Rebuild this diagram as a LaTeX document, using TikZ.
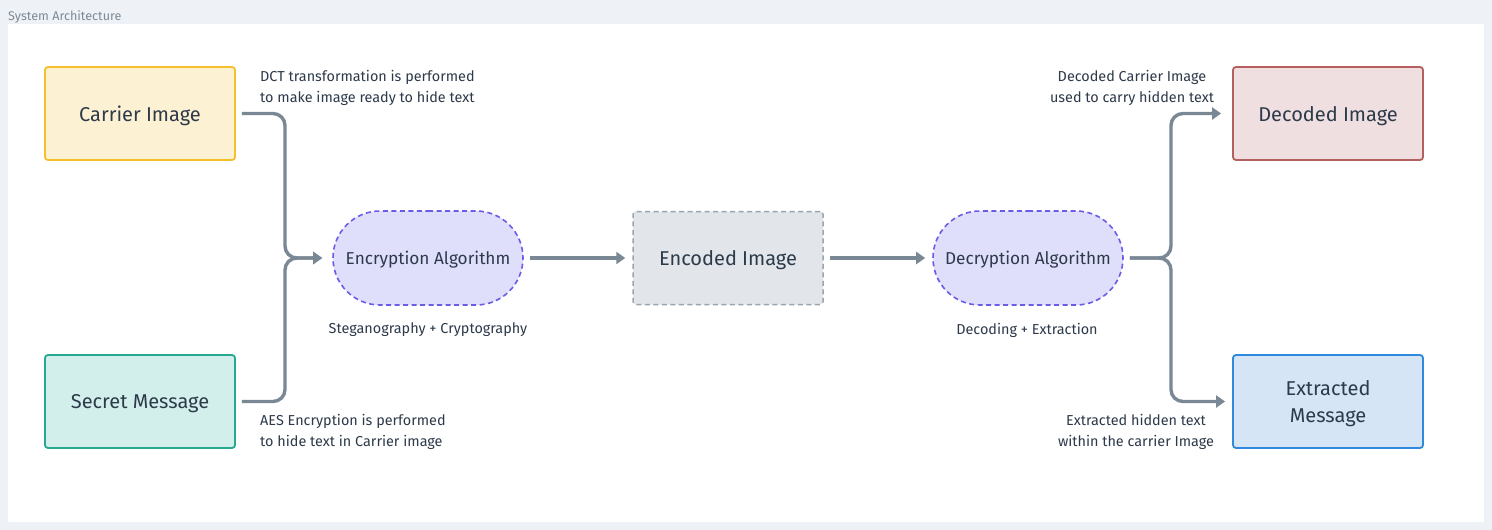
\documentclass[tikz,border=0pt]{standalone}
\usepackage{fontspec}
\setmainfont{Fira Sans}
\usetikzlibrary{arrows.meta,shapes.misc}
\definecolor{outerbg}{HTML}{EEF2F6}
\definecolor{txt}{HTML}{2D3A4A}
\definecolor{conncol}{HTML}{7A8896}
\definecolor{yelf}{HTML}{FDF1D3}\definecolor{yeld}{HTML}{F5C02A}
\definecolor{tealf}{HTML}{D3EFEC}\definecolor{teald}{HTML}{27A98F}
\definecolor{purf}{HTML}{E0DFFB}\definecolor{purd}{HTML}{6B5CE8}
\definecolor{grayf}{HTML}{E2E6EA}\definecolor{grayd}{HTML}{9AA5AE}
\definecolor{redf}{HTML}{EFDFE0}\definecolor{redd}{HTML}{B65F5F}
\definecolor{bluef}{HTML}{D5E5F5}\definecolor{blued}{HTML}{2F89DC}
\definecolor{titlecol}{HTML}{7D8A97}
\tikzset{
  box/.style={rectangle, rounded corners=3pt, line width=1.8pt, minimum width=190pt, minimum height=93pt, align=center, text=txt, font=\fontsize{20}{27.5}\selectfont, inner sep=0pt, text depth=-2.5pt},
  stadium/.style={rounded rectangle, line width=1.6pt, dash pattern=on 5pt off 3.5pt, draw=purd, fill=purf, minimum width=190pt, minimum height=94pt, text=txt, font=\fontsize{17.2}{20}\selectfont, inner sep=0pt, text depth=-1.5pt},
  conn/.style={draw=conncol, line width=3.4pt, rounded corners=12pt, -{Triangle[length=9pt,width=12pt]}},
  lbl/.style={text=txt, font=\fontsize{14.4}{21}\selectfont, inner sep=0pt}
}
\begin{document}
\begin{tikzpicture}[x=1pt,y=-1pt]
\useasboundingbox (0,0) rectangle (1492,530);
\fill[outerbg] (0,0) rectangle (1492,530);
\fill[white] (8,24) rectangle (1484,522);
\node[anchor=base west, text=titlecol, font=\fontsize{12.6}{14}\selectfont, inner sep=0pt] (title) at (8,20) {System Architecture};

\node[box, draw=yeld, fill=yelf] (carrier) at (140,113.5) {Carrier Image};
\node[box, draw=teald, fill=tealf] (secret) at (140,401.5) {Secret Message};
\node[stadium] (enc) at (428,258) {Encryption Algorithm};
\node[box, draw=grayd, fill=grayf, line width=1.5pt, dash pattern=on 5pt off 3.5pt] (encoded) at (728,258) {Encoded Image};
\node[stadium] (dec) at (1028,258) {Decryption Algorithm};
\node[box, draw=redd, fill=redf] (decoded) at (1328,113.5) {Decoded Image};
\node[box, draw=blued, fill=bluef] (extracted) at (1328,401.5) {Extracted\\Message};

\coordinate (j1) at (285,258);
\coordinate (j2) at (1171,258);

\draw[conn, shorten <=6pt, shorten >=10pt] (carrier.east) -- (carrier.east -| j1) -- (j1) -- (enc.west);
\draw[conn, shorten <=6pt, shorten >=10pt] (secret.east) -- (secret.east -| j1) -- (j1) -- (enc.west);
\draw[conn, shorten <=6pt, shorten >=7pt] (enc.east) -- (encoded.west);
\draw[conn, shorten <=6pt, shorten >=7pt] (encoded.east) -- (dec.west);
\draw[conn, shorten <=6pt, shorten >=11pt] (dec.east) -- (j2) -- (j2 |- decoded.west) -- (decoded.west);
\draw[conn, shorten <=6pt, shorten >=7pt] (dec.east) -- (j2) -- (j2 |- extracted.west) -- (extracted.west);

\node[lbl, anchor=north west, align=left] (l1) at (260,70) {DCT transformation is performed\\to make image ready to hide text};
\node[lbl, anchor=north west, align=left] (l2) at (260,414) {AES Encryption is performed\\to hide text in Carrier image};
\node[lbl, anchor=north] (l3) at (428,323) {Steganography + Cryptography};
\node[lbl, anchor=north] (l4) at (1027,323) {Decoding + Extraction};
\node[lbl, anchor=north, align=center] (l5) at (1132,70) {Decoded Carrier Image\\used to carry hidden text};
\node[lbl, anchor=north, align=center] (l6) at (1136,414) {Extracted hidden text\\within the carrier Image};
\end{tikzpicture}
\end{document}
